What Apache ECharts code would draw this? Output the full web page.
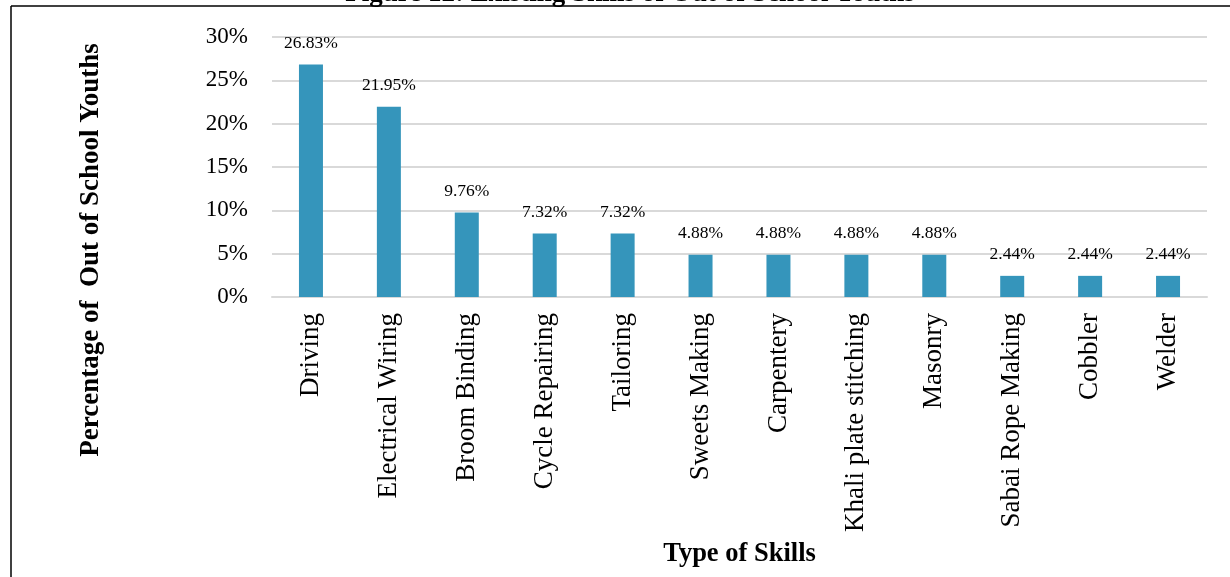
<!DOCTYPE html>
<html>
<head>
<meta charset="utf-8">
<script src="https://cdn.jsdelivr.net/npm/echarts@6/dist/echarts.min.js"></script>
<style>
  html, body { margin: 0; padding: 0; background: #fff; }
  #chart { width: 1230px; height: 577px; }
</style>
</head>
<body>
<div id="chart"></div>
<script>
// Skill categories and share of out-of-school youths (%)
const skills = ['Driving', 'Electrical Wiring', 'Broom Binding', 'Cycle Repairing', 'Tailoring',
  'Sweets Making', 'Carpentery', 'Khali plate stitching', 'Masonry', 'Sabai Rope Making',
  'Cobbler', 'Welder'];
const shares = [26.83, 21.95, 9.76, 7.32, 7.32, 4.88, 4.88, 4.88, 4.88, 2.44, 2.44, 2.44];
const yTicks = [0, 5, 10, 15, 20, 25, 30];

const serif = '"Liberation Serif", "Times New Roman", serif';
const chart = echarts.init(document.getElementById('chart'), null, { renderer: 'canvas' });

chart.setOption({
  animation: false,
  backgroundColor: '#ffffff',
  grid: { left: 272, right: 23, top: 37, bottom: 280, containLabel: false },
  xAxis: {
    type: 'category',
    data: skills,
    axisLine: { show: true, lineStyle: { color: '#d9d9d9', width: 2 } },
    axisTick: { show: false },
    axisLabel: {
      rotate: 90, interval: 0, margin: 16,
      fontFamily: serif, fontSize: 27, color: '#000'
    },
    name: 'Type of Skills',
    nameLocation: 'middle',
    nameGap: 244,
    nameTextStyle: { fontFamily: serif, fontSize: 26.5, fontWeight: 'bold', color: '#000' }
  },
  yAxis: {
    type: 'value',
    min: yTicks[0],
    max: yTicks[yTicks.length - 1],
    interval: 5,
    axisLine: { show: false },
    axisTick: { show: false },
    splitLine: { lineStyle: { color: '#d9d9d9', width: 2 } },
    axisLabel: {
      margin: 24,
      fontFamily: serif, fontSize: 23, color: '#000',
      formatter: v => v + '%'
    }
  },
  series: [{
    type: 'bar',
    data: shares,
    barWidth: 24,
    itemStyle: { color: '#3595bb' },
    label: {
      show: true,
      position: 'top',
      distance: 12,
      fontFamily: serif, fontSize: 17.5, color: '#000',
      formatter: p => p.value.toFixed(2) + '%'
    }
  }],
  graphic: [
    {
      type: 'text', x: 630, y: -19,
      style: {
        text: 'Figure 12: Existing Skills of Out of School Youths',
        font: 'bold 27px ' + serif, fill: '#000', align: 'center', verticalAlign: 'top'
      }
    },
    { type: 'line', shape: { x1: 11, y1: 6, x2: 1230, y2: 6 }, style: { stroke: '#000', lineWidth: 1.5 } },
    { type: 'line', shape: { x1: 11, y1: 6, x2: 11, y2: 577 }, style: { stroke: '#000', lineWidth: 1.5 } },
    {
      type: 'text', x: 91, y: 250, rotation: Math.PI / 2,
      style: {
        text: 'Percentage of  Out of School Youths',
        font: 'bold 27px ' + serif, fill: '#000',
        align: 'center', verticalAlign: 'middle'
      }
    }
  ]
});
</script>
</body>
</html>
